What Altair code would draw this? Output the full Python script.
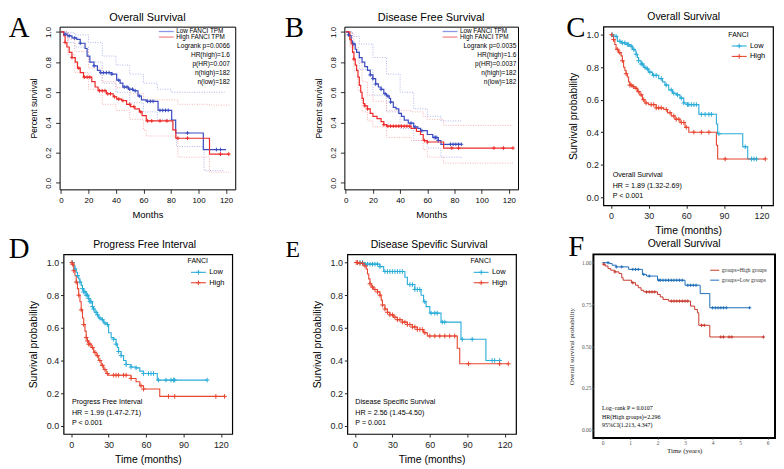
import bisect
import altair as alt
import pandas as pd

# ---------------- data ----------------
# Panel A  (GEPIA, Overall Survival, months)
A_low_t = [0, 2, 4.5, 8, 11.5, 14, 17.5, 19, 21, 24, 26.5, 28.5, 37, 40.5, 43, 45, 49, 52.5, 56, 58.5, 62, 70.6, 80.5, 83.4, 103.5, 120]
A_low_s = [1.0, 0.985, 0.974, 0.96, 0.95, 0.925, 0.89, 0.84, 0.80, 0.775, 0.745, 0.73, 0.72, 0.68, 0.66, 0.635, 0.62, 0.61, 0.575, 0.55, 0.54, 0.48, 0.415, 0.33, 0.22, 0.22]
A_high_t = [0, 2, 3, 4.3, 6, 8, 10.4, 12, 14, 16.4, 22.4, 24.8, 27, 33, 38, 40.5, 44, 47.7, 50.6, 53.7, 57, 59, 62, 81.4, 83.5, 108, 122.4]
A_high_s = [1.0, 0.975, 0.93, 0.90, 0.865, 0.83, 0.80, 0.76, 0.73, 0.70, 0.67, 0.635, 0.61, 0.59, 0.57, 0.555, 0.545, 0.52, 0.505, 0.49, 0.47, 0.445, 0.41, 0.35, 0.295, 0.19, 0.19]
A_low_up_t = [0, 5, 10, 20, 30, 40, 50, 60, 70, 80, 85, 104, 119]
A_low_up_s = [1.0, 0.995, 0.98, 0.93, 0.84, 0.78, 0.72, 0.66, 0.62, 0.60, 0.60, 0.60, 0.60]
A_low_lo_t = [0, 5, 10, 20, 30, 40, 50, 60, 70, 81, 84, 104, 119]
A_low_lo_s = [1.0, 0.93, 0.90, 0.80, 0.66, 0.60, 0.53, 0.47, 0.42, 0.35, 0.24, 0.08, 0.08]
A_high_up_t = [0, 5, 10, 20, 30, 40, 50, 60, 62, 83, 85, 108, 123]
A_high_up_s = [1.0, 0.95, 0.87, 0.76, 0.67, 0.63, 0.59, 0.55, 0.55, 0.55, 0.52, 0.515, 0.515]
A_high_lo_t = [0, 5, 10, 20, 30, 40, 50, 60, 62, 83, 85, 108, 123]
A_high_lo_s = [1.0, 0.85, 0.73, 0.62, 0.52, 0.48, 0.42, 0.35, 0.31, 0.30, 0.17, 0.07, 0.07]
A_low_c = [3, 6, 10, 14, 24, 29, 31, 33, 35, 37, 42, 46, 48, 50, 52, 54, 57, 63, 65, 67, 72, 74, 76, 78, 92, 113, 116]
A_high_c = [3, 8, 13, 17, 19, 21, 28, 30, 32, 34, 36, 39, 42, 45, 50, 53, 58, 63, 66, 72, 77, 85, 92, 116, 122]
A_stats = ["Logrank p=0.0066", "HR(high)=1.6", "p(HR)=0.007", "n(high)=182", "n(low)=182"]

# Panel B  (GEPIA, Disease Free Survival)
B_low_t = [0, 2, 3, 4, 5, 7, 8, 10, 12, 14, 16, 18, 20, 22, 24, 26, 28, 30, 32, 33, 35, 37, 39, 41, 43, 46, 50, 53, 55, 60, 64, 68, 70, 85]
B_low_s = [1.0, 0.98, 0.975, 0.94, 0.92, 0.885, 0.865, 0.83, 0.80, 0.77, 0.745, 0.715, 0.69, 0.655, 0.635, 0.62, 0.59, 0.575, 0.56, 0.535, 0.50, 0.49, 0.46, 0.44, 0.415, 0.395, 0.37, 0.36, 0.345, 0.32, 0.30, 0.28, 0.255, 0.255]
B_high_t = [0, 3, 4, 5, 6, 7, 8, 9, 10, 11, 12, 13, 14, 16, 18, 20, 23, 26, 28, 30, 48, 52, 55, 57, 60, 72, 123]
B_high_s = [1.0, 0.95, 0.92, 0.865, 0.82, 0.78, 0.745, 0.70, 0.645, 0.60, 0.56, 0.525, 0.51, 0.49, 0.46, 0.44, 0.425, 0.405, 0.385, 0.375, 0.36, 0.34, 0.32, 0.28, 0.27, 0.23, 0.23]
B_low_up_t = [0, 5, 10, 20, 30, 40, 50, 60, 70, 85]
B_low_up_s = [1.0, 0.97, 0.92, 0.83, 0.72, 0.60, 0.49, 0.44, 0.41, 0.41]
B_low_lo_t = [0, 5, 10, 20, 30, 40, 50, 60, 70, 85]
B_low_lo_s = [1.0, 0.87, 0.75, 0.58, 0.47, 0.36, 0.28, 0.23, 0.17, 0.165]
B_high_up_t = [0, 3, 6, 9, 12, 16, 20, 30, 48, 57, 60, 72, 123]
B_high_up_s = [1.0, 0.99, 0.90, 0.80, 0.67, 0.58, 0.54, 0.48, 0.47, 0.44, 0.42, 0.38, 0.38]
B_high_lo_t = [0, 3, 6, 9, 12, 16, 20, 30, 48, 57, 60, 72, 123]
B_high_lo_s = [1.0, 0.90, 0.74, 0.61, 0.47, 0.41, 0.37, 0.30, 0.28, 0.22, 0.17, 0.13, 0.13]
B_low_c = [2, 6, 18, 20, 22, 26, 29, 31, 33, 48, 51, 56, 65, 66, 67, 68, 77, 79, 81, 83, 85]
B_high_c = [6, 14, 16, 28, 31, 33, 35, 37, 39, 41, 43, 45, 47, 58, 60, 78, 83, 109, 116, 123]
B_stats = ["Logrank p=0.0035", "HR(high)=1.6", "p(HR)=0.0037", "n(high)=182", "n(low)=182"]

# Panel C  (Overall Survival)
C_low_t = [0, 2, 5, 8, 12, 15, 17, 19, 20, 21, 22, 24, 26, 28, 30, 33, 38, 41, 43, 46, 49, 52, 55, 58, 61, 70, 84, 85, 105, 109, 116]
C_low_s = [1.0, 0.99, 0.96, 0.95, 0.94, 0.93, 0.91, 0.90, 0.88, 0.86, 0.84, 0.82, 0.80, 0.79, 0.77, 0.75, 0.73, 0.71, 0.69, 0.66, 0.64, 0.63, 0.61, 0.58, 0.57, 0.51, 0.45, 0.39, 0.31, 0.235, 0.235]
C_high_t = [0, 1, 2, 3, 4, 6, 8, 9, 10, 11, 12, 13, 14, 15, 17, 19, 21, 23, 25, 27, 30, 36, 42, 45, 48, 51, 55, 59, 62, 84, 85, 123]
C_high_s = [1.0, 0.99, 0.97, 0.94, 0.91, 0.89, 0.87, 0.84, 0.80, 0.78, 0.76, 0.74, 0.71, 0.69, 0.68, 0.67, 0.65, 0.63, 0.60, 0.58, 0.57, 0.55, 0.54, 0.52, 0.50, 0.48, 0.46, 0.43, 0.40, 0.32, 0.235, 0.235]
C_low_c = [1, 4, 7, 9, 11, 13, 14, 16, 18, 20, 22, 24, 25, 27, 29, 31, 34, 36, 40, 44, 48, 50, 53, 56, 58, 61, 62, 64, 66, 68, 72, 75, 78, 80, 86, 107, 112, 114, 116]
C_high_c = [0.5, 2, 5, 7, 9, 12, 15, 16, 18, 20, 22, 24, 26, 28, 32, 34, 36, 38, 40, 44, 47, 50, 52, 54, 56, 58, 60, 66, 72, 78, 91, 123]
C_ann = ["Overall Survival", "HR = 1.89 (1.32-2.69)", "P < 0.001"]

# Panel D  (Progress Free Interval)
D_low_t = [0, 2, 3, 4, 5, 6, 7, 8, 9, 10, 12, 14, 15, 17, 18, 19, 21, 22, 24, 26, 29, 30, 32, 34, 36, 37, 38, 40, 42, 44, 48, 52, 55, 58, 69, 109]
D_low_s = [1.0, 0.98, 0.96, 0.94, 0.92, 0.90, 0.88, 0.86, 0.84, 0.82, 0.80, 0.78, 0.76, 0.73, 0.715, 0.695, 0.68, 0.66, 0.65, 0.63, 0.62, 0.57, 0.54, 0.53, 0.50, 0.48, 0.455, 0.43, 0.40, 0.375, 0.36, 0.355, 0.335, 0.32, 0.28, 0.28]
D_high_t = [0, 1, 2, 3, 4, 5, 6, 7, 8, 9, 10, 11, 12, 13, 14, 16, 18, 20, 22, 24, 26, 28, 30, 48, 52, 55, 58, 71, 123]
D_high_s = [1.0, 0.99, 0.95, 0.92, 0.88, 0.84, 0.80, 0.76, 0.71, 0.66, 0.62, 0.58, 0.54, 0.52, 0.50, 0.48, 0.45, 0.43, 0.40, 0.37, 0.345, 0.32, 0.31, 0.29, 0.27, 0.245, 0.225, 0.18, 0.18]
D_low_c = [1, 3, 5, 7, 9, 10, 11, 12, 13, 14, 15, 16, 17, 18, 20, 21, 23, 25, 27, 29, 34, 36, 38, 40, 44, 48, 52, 58, 62, 64, 66, 70, 76, 80, 82, 83, 109]
D_high_c = [0.5, 1, 2, 4, 6, 8, 10, 12, 13, 14, 15, 17, 19, 21, 23, 25, 27, 29, 34, 36, 38, 42, 44, 48, 56, 58, 78, 83, 116, 123]
D_ann = ["Progress Free Interval", "HR = 1.99 (1.47-2.71)", "P < 0.001"]

# Panel E  (Disease Specific Survival)
E_low_t = [0, 8, 20, 23, 40, 42, 48, 53, 55, 57, 60, 69, 85, 105, 116]
E_low_s = [1.0, 0.99, 0.975, 0.945, 0.91, 0.865, 0.835, 0.80, 0.76, 0.73, 0.69, 0.635, 0.53, 0.40, 0.40]
E_high_t = [0, 3, 7, 9, 10, 11, 12, 13, 15, 18, 20, 21, 22, 24, 26, 28, 31, 34, 38, 42, 46, 50, 55, 58, 82, 84, 123]
E_high_s = [1.0, 0.995, 0.98, 0.96, 0.93, 0.90, 0.87, 0.85, 0.835, 0.82, 0.80, 0.77, 0.74, 0.715, 0.695, 0.68, 0.665, 0.65, 0.635, 0.62, 0.605, 0.59, 0.57, 0.55, 0.475, 0.38, 0.38]
E_low_c = [2, 4, 6, 8, 10, 12, 14, 16, 18, 20, 24, 26, 28, 30, 32, 34, 36, 38, 44, 46, 48, 50, 52, 56, 61, 64, 66, 70, 72, 86, 94, 110, 112, 116]
E_high_c = [1, 2, 4, 6, 8, 12, 14, 16, 18, 20, 22, 24, 26, 28, 30, 32, 34, 36, 38, 40, 42, 44, 46, 48, 50, 52, 54, 56, 60, 64, 68, 72, 76, 80, 91, 116, 123]
E_ann = ["Disease Specific Survival", "HR = 2.56 (1.45-4.50)", "P = 0.001"]

# Panel F  (Overall Survival, years)
F_high_t = [0, 0.05, 0.1, 0.2, 0.3, 0.45, 0.6, 0.7, 0.75, 1.05, 1.2, 1.3, 1.4, 1.5, 2.0, 2.1, 2.2, 2.4, 3.2, 3.35, 3.45, 3.5, 3.9, 5.85]
F_high_s = [1.0, 0.99, 0.98, 0.965, 0.955, 0.945, 0.935, 0.91, 0.895, 0.88, 0.865, 0.85, 0.835, 0.825, 0.81, 0.795, 0.78, 0.77, 0.74, 0.72, 0.70, 0.625, 0.555, 0.555]
F_low_t = [0, 0.25, 0.35, 0.5, 0.95, 1.45, 1.6, 2.0, 3.0, 3.55, 3.9, 5.35]
F_low_s = [1.0, 0.995, 0.985, 0.975, 0.96, 0.93, 0.92, 0.895, 0.865, 0.815, 0.73, 0.73]
F_high_c = [0.05, 0.45, 1.1, 1.6, 1.7, 1.8, 1.9, 2.5, 2.6, 2.7, 2.8, 2.9, 3.0, 3.1, 3.6, 3.7, 4.3, 4.4, 4.6, 4.7, 5.85]
F_low_c = [0.2, 0.5, 0.7, 1.1, 1.2, 1.3, 1.5, 1.7, 2.05, 2.1, 2.2, 2.3, 2.4, 2.5, 2.6, 2.7, 2.8, 2.9, 3.1, 3.2, 3.3, 3.4, 4.0, 4.1, 4.2, 4.3, 4.4, 4.5, 5.35]
F_ann = ["Log\u2212rank P = 0.0107", "HR(High groups)=2.296", " 95%CI(1.213, 4.347)"]

# ---------------- helpers ----------------
SANS = "Liberation Sans"
SERIF = "Liberation Serif"
PLUS = "M-1,0L1,0M0,-1L0,1"
ONE = pd.DataFrame({"k": [0]})
LETTER = 29

G_BLUE, G_RED = "#3a4cc0", "#ee2b2b"
G_BLUE_CI, G_RED_CI = "#9aa4e4", "#f5a0a0"
G_BLUE_LEG, G_RED_LEG = "#8c96e6", "#f48c8c"
T_CYAN, T_RED = "#2aacd9", "#e8452f"
F_RED, F_BLUE = "#c8382c", "#1f6fb8"


def step_df(t, s):
    return pd.DataFrame({"t": t, "s": s})


def censor_df(ct, t, s):
    vals = []
    for c in ct:
        i = bisect.bisect_right(t, c) - 1
        vals.append(s[max(i, 0)])
    return pd.DataFrame({"t": ct, "s": vals})


def enc(xs, ys, xa, ya):
    return dict(x=alt.X("t:Q", scale=xs, axis=xa), y=alt.Y("s:Q", scale=ys, axis=ya))


def curve(t, s, color, e, width=1.2, dash=None, opacity=1.0):
    kw = dict(interpolate="step-after", color=color, strokeWidth=width, opacity=opacity)
    if dash:
        kw["strokeDash"] = dash
    return alt.Chart(step_df(t, s)).mark_line(**kw).encode(**e)


def censors(ct, t, s, color, e, size):
    return alt.Chart(censor_df(ct, t, s)).mark_point(
        shape=PLUS, size=size, filled=False, color=color, strokeWidth=1, opacity=1
    ).encode(**e)


def txt(text, x, y, size, align="left", baseline="middle", font=SANS, color="black"):
    return alt.Chart(ONE).mark_text(
        text=text, fontSize=size, align=align, baseline=baseline, font=font, color=color
    ).encode(x=alt.value(x), y=alt.value(y))


def hline(x1, x2, y, color, width=1.2):
    return alt.Chart(ONE).mark_rule(color=color, strokeWidth=width).encode(
        x=alt.value(x1), x2=alt.value(x2), y=alt.value(y))


def plus_at(x, y, color, size):
    return alt.Chart(ONE).mark_point(
        shape=PLUS, size=size, filled=False, color=color, strokeWidth=1, opacity=1
    ).encode(x=alt.value(x), y=alt.value(y))


def gepia_panel(letter, letter_x, title, lo, hi, lo_ci, hi_ci, lo_c, hi_c, stats, w, h, leg_x, stat_x):
    xs = alt.Scale(domain=[-1, 126.7], nice=False, zero=False)
    ys = alt.Scale(domain=[-0.044, 1.035], nice=False, zero=False)
    xa = alt.Axis(values=[0, 20, 40, 60, 80, 100, 120], format="d", domain=False, grid=False,
                  labelFont=SANS, labelFontSize=8, labelColor="black", labelPadding=3,
                  tickSize=4, tickColor="black", tickWidth=0.8,
                  title="Months", titleFont=SANS, titleFontSize=9.5, titleFontWeight="normal",
                  titleColor="black", titleX=w / 2, titleY=25, titleBaseline="middle", titleAlign="center")
    ya = alt.Axis(values=[0, 0.2, 0.4, 0.6, 0.8, 1.0], format=".1f", domain=False, grid=False,
                  labelFont=SANS, labelFontSize=8, labelColor="black", labelPadding=3,
                  labelAngle=270, labelAlign="center", labelBaseline="bottom",
                  tickSize=4, tickColor="black", tickWidth=0.8,
                  title="Percent survival", titleFont=SANS, titleFontSize=8.5, titleFontWeight="normal",
                  titleColor="black", titleX=-26, titleY=h / 2, titleAngle=270,
                  titleBaseline="middle", titleAlign="center")
    e = enc(xs, ys, xa, ya)
    layers = []
    for t, s in lo_ci:
        layers.append(curve(t, s, G_BLUE_CI, e, 0.8, [1, 1.5]))
    for t, s in hi_ci:
        layers.append(curve(t, s, G_RED_CI, e, 0.8, [1, 1.5]))
    layers.append(curve(lo[0], lo[1], G_BLUE, e, 1.2))
    layers.append(curve(hi[0], hi[1], G_RED, e, 1.2))
    layers.append(censors(lo_c, lo[0], lo[1], G_BLUE, e, 14))
    layers.append(censors(hi_c, hi[0], hi[1], G_RED, e, 14))
    layers.append(txt(title, w / 2, -9, 11, align="center"))
    layers.append(txt(letter, letter_x, 10, LETTER, baseline="alphabetic", font=SERIF))
    layers.append(hline(leg_x, leg_x + 15, 4.9, G_BLUE_LEG, 1.3))
    layers.append(hline(leg_x, leg_x + 15, 10.5, G_RED_LEG, 1.3))
    layers.append(txt("Low FANCI TPM", leg_x + 17.5, 4.9, 6.4))
    layers.append(txt("High FANCI TPM", leg_x + 17.5, 10.5, 6.4))
    for i, s in enumerate(stats):
        layers.append(txt(s, stat_x, [19.3, 28.8, 37.7, 46.7, 56][i], 6.6, align="right"))
    return alt.layer(*layers).properties(
        width=w, height=h, view=alt.ViewBackground(stroke="black", strokeWidth=1, fill="white"))


def tcga_panel(letter, letter_x, letter_y, letter_size, title, title_x, lo, hi, lo_c, hi_c, ann, w, h, leg_x, leg_y, ann_x, ann_y):
    xs = alt.Scale(domain=[-6.15, 129.15], nice=False, zero=False)
    ys = alt.Scale(domain=[-0.05, 1.05], nice=False, zero=False)
    xa = alt.Axis(values=[0, 30, 60, 90, 120], format="d", domain=False, grid=False,
                  labelFont=SANS, labelFontSize=9, labelColor="#222", labelPadding=3.5,
                  tickSize=3, tickColor="#222", tickWidth=1,
                  title="Time (months)", titleFont=SANS, titleFontSize=10.5, titleFontWeight="normal",
                  titleColor="black", titleX=w / 2, titleY=25.3, titleBaseline="middle", titleAlign="center")
    ya = alt.Axis(values=[0, 0.2, 0.4, 0.6, 0.8, 1.0], format=".1f", domain=False, grid=False,
                  labelFont=SANS, labelFontSize=9, labelColor="#222", labelPadding=2,
                  tickSize=3, tickColor="#222", tickWidth=1,
                  title="Survival probability", titleFont=SANS, titleFontSize=10.5, titleFontWeight="normal",
                  titleColor="black", titleX=-30, titleY=h / 2, titleAngle=270,
                  titleBaseline="middle", titleAlign="center")
    e = enc(xs, ys, xa, ya)
    layers = [
        curve(lo[0], lo[1], T_CYAN, e, 1.1),
        curve(hi[0], hi[1], T_RED, e, 1.1),
        censors(lo_c, lo[0], lo[1], T_CYAN, e, 22),
        censors(hi_c, hi[0], hi[1], T_RED, e, 22),
        txt(title, title_x, -9.2, 10.5, align="center"),
        txt(letter, letter_x, letter_y, letter_size, baseline="alphabetic", font=SERIF),
        txt("FANCI", leg_x, leg_y, 7),
        hline(leg_x + 3.4, leg_x + 18.4, leg_y + 11.5, T_CYAN, 1.1),
        plus_at(leg_x + 10.9, leg_y + 11.5, T_CYAN, 22),
        txt("Low", leg_x + 21.7, leg_y + 11.5, 7.5),
        hline(leg_x + 3.4, leg_x + 18.4, leg_y + 22, T_RED, 1.1),
        plus_at(leg_x + 10.9, leg_y + 22, T_RED, 22),
        txt("High", leg_x + 21.7, leg_y + 22, 7.5),
    ]
    for i, s in enumerate(ann):
        layers.append(txt(s, ann_x, ann_y + 10.5 * i, 7.2))
    return alt.layer(*layers).properties(
        width=w, height=h, view=alt.ViewBackground(stroke="black", strokeWidth=1.2, fill="white"))


def f_panel(w, h):
    xs = alt.Scale(domain=[-0.33, 6.27], nice=False, zero=False)
    ys = alt.Scale(domain=[-0.05, 1.05], nice=False, zero=False)
    xa = alt.Axis(values=[0, 1, 2, 3, 4, 5, 6], format="d", domain=False, grid=False,
                  labelFont=SERIF, labelFontSize=5.5, labelColor="#555", labelPadding=1.5,
                  tickSize=1.5, tickColor="#666", tickWidth=0.8,
                  title="Time (years)", titleFont=SERIF, titleFontSize=7, titleFontWeight="normal",
                  titleColor="#222", titleX=w / 2, titleY=12.4, titleBaseline="middle", titleAlign="center")
    ya = alt.Axis(values=[0, 0.25, 0.5, 0.75, 1.0], format=".2f", domain=False, grid=False,
                  labelFont=SERIF, labelFontSize=5.5, labelColor="#555", labelPadding=1,
                  tickSize=1.5, tickColor="#666", tickWidth=0.8,
                  title="Overall survival probability", titleFont=SERIF, titleFontSize=7,
                  titleFontWeight="normal", titleColor="#222", titleX=-22.3, titleY=h / 2,
                  titleAngle=270, titleBaseline="middle", titleAlign="center")
    e = enc(xs, ys, xa, ya)
    layers = [
        curve(F_high_t, F_high_s, F_RED, e, 1.0),
        curve(F_low_t, F_low_s, F_BLUE, e, 1.0),
        censors(F_high_c, F_high_t, F_high_s, F_RED, e, 10),
        censors(F_low_c, F_low_t, F_low_s, F_BLUE, e, 10),
        txt("Overall Survival", w / 2, -10, 10.5, align="center"),
        txt("F", -25.3, 1.5, LETTER, baseline="alphabetic", font=SERIF),
        hline(117.7, 126.7, 16, F_RED, 1),
        txt("groups=High groups", 129.4, 16, 5.5, font=SERIF, color="#333"),
        hline(117.7, 126.7, 26, F_BLUE, 1),
        txt("groups=Low groups", 129.4, 26, 5.5, font=SERIF, color="#333"),
    ]
    for i, s in enumerate(F_ann):
        layers.append(txt(s, 8.7, [155, 164, 171.7][i], 6, font=SERIF))
    return alt.layer(*layers).properties(
        width=w, height=h, view=alt.ViewBackground(stroke="black", strokeWidth=2, fill="white"))


def spacer(w):
    return alt.Chart(ONE).mark_point(opacity=0, size=1).encode(
        x=alt.X("k:Q", axis=None), y=alt.Y("k:Q", axis=None)
    ).properties(width=w, height=1, view=alt.ViewBackground(stroke="transparent"))


# ---------------- panels ----------------
pA = gepia_panel("A", -51.3, "Overall Survival", (A_low_t, A_low_s), (A_high_t, A_high_s),
                 [(A_low_up_t, A_low_up_s), (A_low_lo_t, A_low_lo_s)],
                 [(A_high_up_t, A_high_up_s), (A_high_lo_t, A_high_lo_s)],
                 A_low_c, A_high_c, A_stats, 177, 164, 100, 171.7)
pB = gepia_panel("B", -60, "Disease Free Survival", (B_low_t, B_low_s), (B_high_t, B_high_s),
                 [(B_low_up_t, B_low_up_s), (B_low_lo_t, B_low_lo_s)],
                 [(B_high_up_t, B_high_up_s), (B_high_lo_t, B_high_lo_s)],
                 B_low_c, B_high_c, B_stats, 175, 164, 99, 173.3)
pC = tcga_panel("C", -37.3, 10, LETTER, "Overall Survival", 81, (C_low_t, C_low_s), (C_high_t, C_high_s),
                C_low_c, C_high_c, C_ann, 171, 180, 126, 8, 9.4, 150)
pD = tcga_panel("D", -55.3, 3.3, LETTER, "Progress Free Interval", 81.7, (D_low_t, D_low_s), (D_high_t, D_high_s),
                D_low_c, D_high_c, D_ann, 170, 181, 125, 6.6, 8.4, 149)
pE = tcga_panel("E", -62.3, 2.3, 24, "Disease Spevific Survival", 82.4, (E_low_t, E_low_s), (E_high_t, E_high_s),
                E_low_c, E_high_c, E_ann, 170, 181, 124, 6.6, 8, 149)
pF = f_panel(183, 185)

row1 = alt.hconcat(pA, spacer(110), pB, spacer(86), pC, spacing=0, bounds="flush")
row2 = alt.hconcat(spacer(4), pD, spacer(116), pE, spacer(78), pF, spacing=0, bounds="flush")

chart = alt.vconcat(row1, row2, spacing=-5.5).properties(
    padding={"left": 0, "top": 1, "right": 0, "bottom": 0}, background="white"
).configure_view(stroke="transparent")

chart.save("out.html", embed_options={"renderer": "svg", "actions": False})
